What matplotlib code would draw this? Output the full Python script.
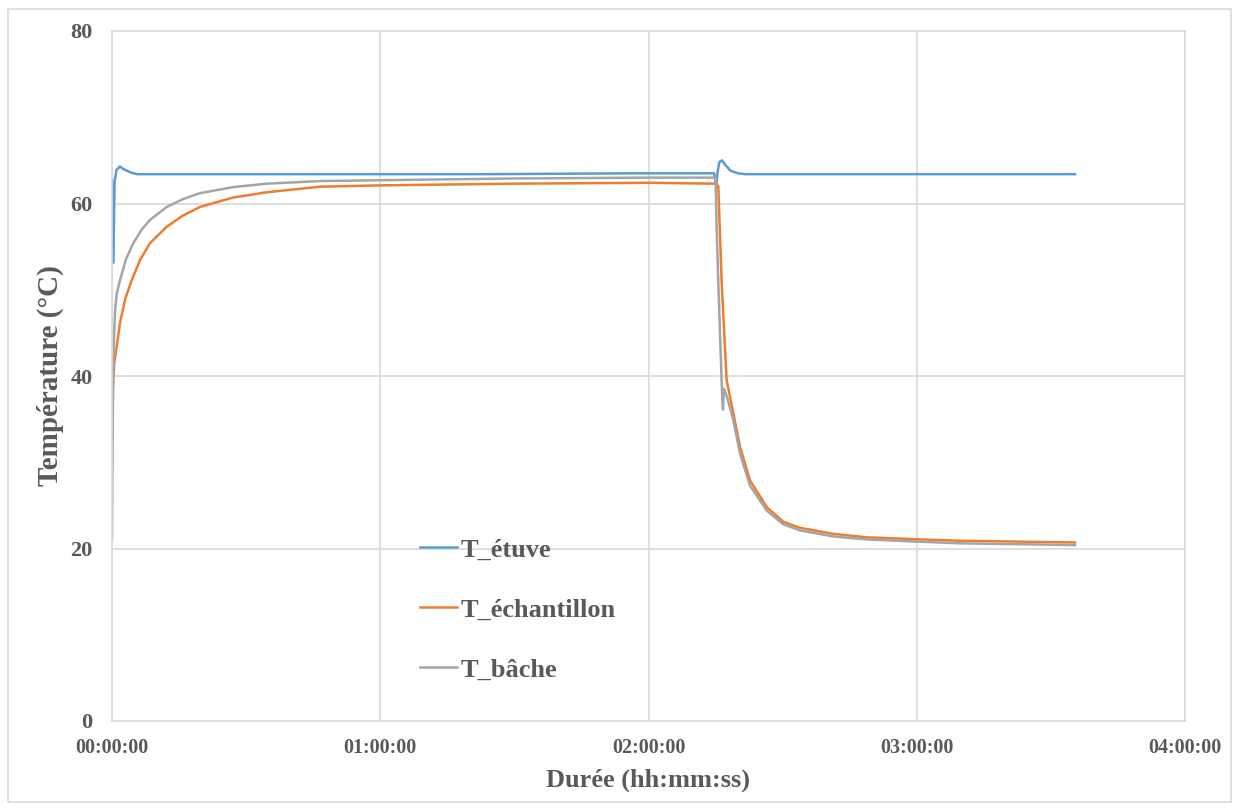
import matplotlib
matplotlib.use("Agg")
import matplotlib.pyplot as plt
from matplotlib.patches import Rectangle
from matplotlib.ticker import FuncFormatter, MultipleLocator

# Durées en secondes, températures en °C
t_etuve = [0, 8, 15, 22, 35, 60, 107, 150, 250, 340, 1000, 3000, 5000, 7000,
           8080, 8110, 8125, 8150, 8185, 8230, 8300, 8400, 8500, 10000, 12000, 12925]
T_etuve = [62.8, 58.0, 53.1, 56.0, 62.5, 63.9, 64.3, 64.0, 63.6, 63.4, 63.4, 63.4, 63.4, 63.5,
           63.5, 62.0, 63.5, 64.8, 65.0, 64.5, 63.8, 63.5, 63.4, 63.4, 63.4, 63.4]

t_echant = [0, 12, 30, 63, 110, 180, 264, 380, 510, 734, 950, 1181, 1628, 2076, 2791,
            3600, 5400, 7200, 8100, 8137, 8182, 8249, 8338, 8428, 8562, 8786, 9009,
            9233, 9676, 10128, 10799, 11380, 12923]
T_echant = [32.2, 38.5, 41.5, 43.4, 46.3, 49.0, 51.1, 53.5, 55.4, 57.3, 58.6, 59.6, 60.7, 61.3, 61.95,
            62.1, 62.3, 62.4, 62.3, 62.0, 50.8, 39.5, 35.7, 31.8, 27.9, 24.8, 23.1,
            22.4, 21.7, 21.3, 21.07, 20.9, 20.7]

t_bache = [0, 8, 18, 40, 63, 107, 190, 286, 400, 510, 734, 950, 1181, 1628, 2076, 2791,
           3600, 5400, 7200, 8100, 8114, 8137, 8182, 8199, 8212, 8253, 8338, 8428, 8562,
           8786, 9009, 9233, 9676, 10128, 10799, 11380, 12923]
T_bache = [21.2, 33.0, 42.2, 47.5, 49.5, 51.1, 53.6, 55.4, 57.0, 58.1, 59.6, 60.5, 61.2, 61.9, 62.3, 62.6,
           62.7, 62.9, 63.0, 63.0, 57.3, 50.8, 39.2, 36.1, 38.5, 37.6, 34.9, 31.0, 27.3,
           24.4, 22.8, 22.1, 21.4, 21.05, 20.8, 20.6, 20.4]

gris_texte = "#595959"
police = "Liberation Serif"


def hhmmss(x, pos):
    s = int(round(x))
    return f"{s // 3600:02d}:{(s % 3600) // 60:02d}:{s % 60:02d}"


fig = plt.figure(figsize=(12.39, 8.09), dpi=100)
ax = fig.add_axes([112 / 1239, 1 - 721 / 809, (1185 - 112) / 1239, (721 - 31) / 809])

ax.plot(t_etuve, T_etuve, color="#5B9BD5", lw=1.8, label="T_étuve")
ax.plot(t_echant, T_echant, color="#ED7D31", lw=1.8, label="T_échantillon")
ax.plot(t_bache, T_bache, color="#A5A5A5", lw=1.8, label="T_bâche")

ax.set_xlim(0, 14400)
ax.set_ylim(0, 80)
ax.xaxis.set_major_locator(MultipleLocator(3600))
ax.xaxis.set_major_formatter(FuncFormatter(hhmmss))
ax.yaxis.set_major_locator(MultipleLocator(20))

ax.grid(True, color="#D9D9D9", lw=1.2)
ax.set_axisbelow(True)
for sp in ax.spines.values():
    sp.set_color("#D9D9D9")
    sp.set_linewidth(1.2)

ax.tick_params(length=0, labelcolor=gris_texte)
ax.tick_params(axis="y", pad=14)
ax.tick_params(axis="x", pad=12)
for lab in ax.get_xticklabels():
    lab.set_fontfamily(police)
    lab.set_fontweight("bold")
    lab.set_fontsize(14.5)
for lab in ax.get_yticklabels():
    lab.set_fontfamily(police)
    lab.set_fontweight("bold")
    lab.set_fontsize(16)

ax.set_xlabel("Durée (hh:mm:ss)", fontfamily=police, fontweight="bold",
              fontsize=19, color=gris_texte, labelpad=8)
ax.set_ylabel("Température (°C)", fontfamily=police, fontweight="bold",
              fontsize=21, color=gris_texte, labelpad=4.5)

leg = ax.legend(loc="upper left", bbox_to_anchor=(0.2645, 0.2995), frameon=False,
                handlelength=1.4, handletextpad=0.15, labelspacing=1.38,
                prop={"family": police, "weight": "bold", "size": 19})
for txt in leg.get_texts():
    txt.set_color(gris_texte)

# cadre du graphique
fig.patches.append(Rectangle((8 / 1239, 1 - 802 / 809), 1223 / 1239, 793 / 809,
                             transform=fig.transFigure, fill=False,
                             edgecolor="#D9D9D9", lw=1.2))

fig.savefig("out.png", dpi=100)
